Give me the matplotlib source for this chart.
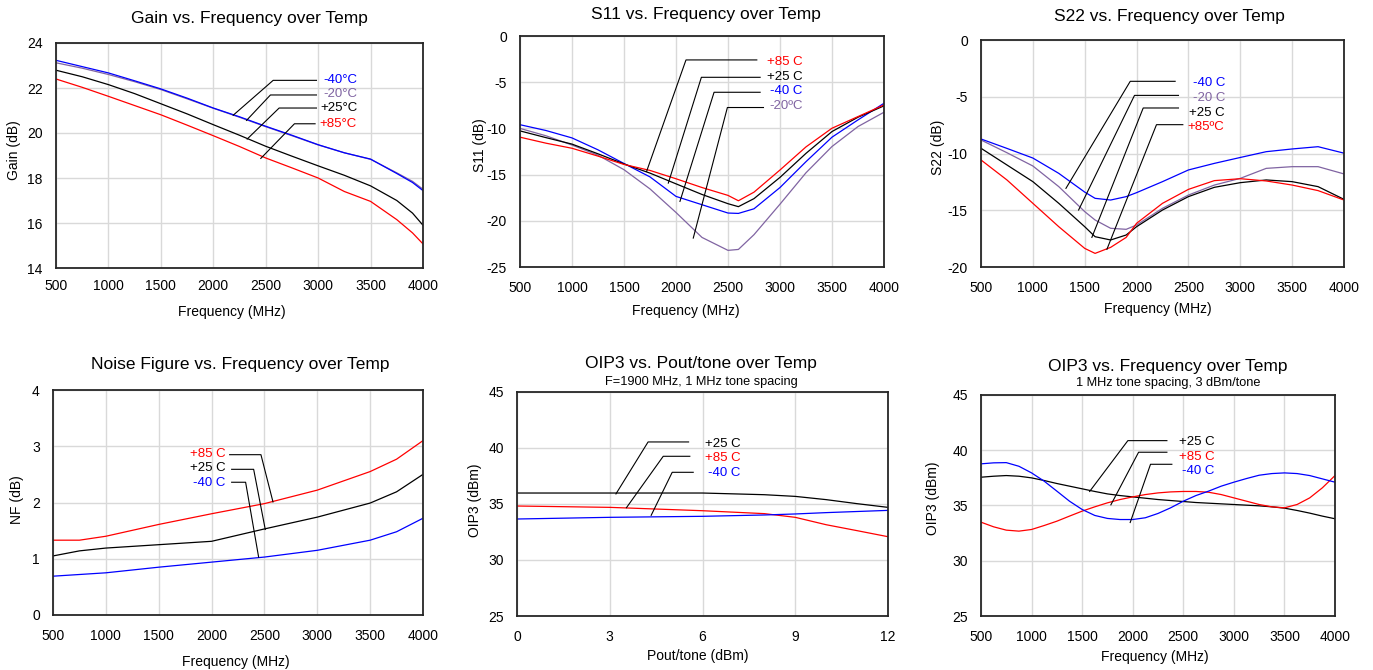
import matplotlib
matplotlib.use('Agg')
import matplotlib.pyplot as plt

plt.rcParams['font.family'] = ['Liberation Sans', 'DejaVu Sans']
plt.rcParams['axes.unicode_minus'] = False

# ---------------- data ----------------
GAIN_FREQ = [500, 750, 1000, 1250, 1500, 1750, 2000, 2250, 2500, 2750, 3000, 3250, 3500, 3750, 3900, 4000]
GAIN_M40 = [23.23, 22.95, 22.67, 22.32, 21.96, 21.55, 21.11, 20.72, 20.30, 19.90, 19.48, 19.12, 18.84, 18.20, 17.80, 17.44]
GAIN_M20 = [23.12, 22.88, 22.60, 22.28, 21.93, 21.52, 21.10, 20.70, 20.28, 19.88, 19.47, 19.12, 18.83, 18.23, 17.85, 17.50]
GAIN_P25 = [22.79, 22.50, 22.15, 21.75, 21.30, 20.85, 20.37, 19.90, 19.41, 18.97, 18.54, 18.12, 17.65, 17.00, 16.44, 15.90]
GAIN_P85 = [22.40, 22.03, 21.63, 21.22, 20.81, 20.35, 19.88, 19.40, 18.89, 18.45, 18.00, 17.40, 16.96, 16.15, 15.56, 15.07]

S11_FREQ = [500, 750, 1000, 1250, 1500, 1750, 2000, 2250, 2500, 2600, 2750, 3000, 3250, 3500, 3750, 4000]
S11_P85 = [-10.95, -11.6, -12.15, -13.0, -13.9, -14.55, -15.45, -16.4, -17.25, -17.83, -16.9, -14.5, -12.0, -9.98, -8.72, -7.46]
S11_P25 = [-10.27, -11.0, -11.7, -12.75, -13.85, -14.84, -16.0, -17.15, -18.15, -18.47, -17.6, -15.3, -12.7, -10.34, -8.79, -7.56]
S11_M40 = [-9.6, -10.23, -11.03, -12.32, -13.8, -15.25, -17.36, -18.26, -19.16, -19.2, -18.7, -16.4, -13.6, -10.95, -9.08, -7.28]
S11_M20 = [-10.0, -10.8, -11.8, -12.9, -14.47, -16.55, -19.1, -21.8, -23.2, -23.1, -21.5, -18.2, -14.8, -11.96, -9.8, -8.25]

S22_FREQ = [500, 750, 1000, 1250, 1500, 1600, 1750, 1900, 2000, 2250, 2500, 2750, 3000, 3250, 3500, 3750, 4000]
S22_M40 = [-8.72, -9.55, -10.4, -11.75, -13.4, -13.95, -14.1, -13.8, -13.45, -12.48, -11.45, -10.87, -10.35, -9.84, -9.6, -9.4, -9.97]
S22_M20 = [-8.81, -9.93, -11.1, -12.92, -15.12, -15.86, -16.59, -16.68, -16.3, -14.83, -13.66, -12.78, -12.19, -11.31, -11.16, -11.16, -11.8]
S22_P25 = [-9.54, -11.01, -12.48, -14.39, -16.45, -17.33, -17.62, -17.18, -16.45, -14.98, -13.8, -12.98, -12.57, -12.33, -12.48, -12.92, -14.04]
S22_P85 = [-10.57, -12.33, -14.39, -16.45, -18.36, -18.8, -18.27, -17.39, -16.15, -14.39, -13.16, -12.39, -12.22, -12.42, -12.78, -13.27, -14.1]

NF_FREQ = [500, 750, 1000, 1500, 2000, 2500, 3000, 3500, 3750, 4000]
NF_P85 = [1.33, 1.33, 1.40, 1.61, 1.80, 1.98, 2.22, 2.55, 2.77, 3.10]
NF_P25 = [1.05, 1.14, 1.19, 1.25, 1.31, 1.53, 1.74, 1.99, 2.19, 2.50]
NF_M40 = [0.69, 0.72, 0.75, 0.85, 0.94, 1.03, 1.15, 1.33, 1.48, 1.72]

POUT = [0, 3, 6, 8, 9, 10, 11, 12]
OIPP_P25 = [35.98, 35.98, 35.98, 35.83, 35.68, 35.39, 35.03, 34.70]
OIPP_P85 = [34.82, 34.70, 34.40, 34.14, 33.81, 33.15, 32.62, 32.08]
OIPP_M40 = [33.66, 33.81, 33.90, 34.02, 34.11, 34.23, 34.33, 34.43]

OIPF_FREQ = [500, 625, 750, 875, 1000, 1125, 1250, 1375, 1500, 1625, 1750, 1875, 2000, 2125, 2250,
             2375, 2500, 2625, 2750, 2875, 3000, 3125, 3250, 3375, 3500, 3625, 3750, 3875, 4000]
OIPF_M40 = [38.77, 38.86, 38.88, 38.55, 37.95, 37.20, 36.30, 35.39, 34.64, 34.10, 33.83, 33.73, 33.73, 33.89, 34.28,
            34.79, 35.39, 35.90, 36.30, 36.75, 37.11, 37.44, 37.74, 37.89, 37.95, 37.89, 37.71, 37.41, 37.11]
OIPF_P25 = [37.56, 37.65, 37.71, 37.65, 37.50, 37.26, 36.99, 36.75, 36.51, 36.27, 36.05, 35.90, 35.78, 35.66, 35.54,
            35.45, 35.36, 35.27, 35.21, 35.15, 35.09, 35.03, 34.97, 34.88, 34.76, 34.55, 34.31, 34.04, 33.80]
OIPF_P85 = [33.49, 33.07, 32.77, 32.68, 32.83, 33.19, 33.58, 34.04, 34.49, 34.88, 35.24, 35.54, 35.78, 35.99, 36.14,
            36.23, 36.27, 36.27, 36.20, 35.99, 35.69, 35.39, 35.09, 34.88, 34.79, 35.09, 35.69, 36.60, 37.71]

FREQ_TICKS = [500, 1000, 1500, 2000, 2500, 3000, 3500, 4000]

# ---------------- style ----------------
RED = '#ff0000'
BLUE = '#0000ff'
PURPLE = '#8064a2'
BLACK = '#000000'
LW = 0.9

W, H = 1373, 670
fig = plt.figure(figsize=(W / 100, H / 100), dpi=100)


def add_ax(l, t, r, b):
    return fig.add_axes([l / W, 1 - b / H, (r - l) / W, (b - t) / H])


def style(ax, rect, xlim, xticks, ylim, yticks, xlabel, ylabel, xl_px, yl_px, xpad=10):
    l, t, r, b = rect
    ax.set_xlim(*xlim)
    ax.set_ylim(*ylim)
    ax.set_xticks(xticks)
    ax.set_yticks(yticks)
    ax.grid(True, color='#d9d9d9', lw=1.0)
    ax.set_axisbelow(True)
    for s in ax.spines.values():
        s.set_color('#262626')
        s.set_linewidth(1.3)
    ax.tick_params(axis='both', length=0, labelsize=10, colors='#000000')
    ax.tick_params(axis='x', pad=xpad)
    ax.tick_params(axis='y', pad=9.5)
    ax.set_xlabel(xlabel, fontsize=10)
    ax.set_ylabel(ylabel, fontsize=10)
    xx = (xl_px[0] - l) / (r - l)
    xy = (b - xl_px[1]) / (b - t)
    ax.xaxis.set_label_coords(xx, xy)
    ax.xaxis.label.set_va('center')
    yx = (yl_px[0] - l) / (r - l)
    yy = (b - yl_px[1]) / (b - t)
    ax.yaxis.set_label_coords(yx, yy)
    ax.yaxis.label.set_va('center')


def title(x, y, s, size=12.5):
    fig.text(x / W, 1 - y / H, s, ha='center', va='center', fontsize=size)


def leader(ax, label, color, tx, ty, end_x, corner_x, ly, px, py, ha='left'):
    ax.plot([end_x, corner_x, px], [ly, ly, py], color='black', lw=0.8, clip_on=False, zorder=5)
    ax.text(tx, ty, label, color=color, ha=ha, va='center', fontsize=9.5, zorder=6)


# ---------------- Panel 1: Gain ----------------
r1 = (56, 43, 423, 268)
ax1 = add_ax(*r1)
ax1.plot(GAIN_FREQ, GAIN_M20, color=PURPLE, lw=LW)
ax1.plot(GAIN_FREQ, GAIN_M40, color=BLUE, lw=LW)
ax1.plot(GAIN_FREQ, GAIN_P25, color=BLACK, lw=LW)
ax1.plot(GAIN_FREQ, GAIN_P85, color=RED, lw=LW)
style(ax1, r1, (500, 4000), FREQ_TICKS, (14, 24), [14, 16, 18, 20, 22, 24],
      'Frequency (MHz)', 'Gain (dB)', (232, 312), (14, 150), xpad=8)
leader(ax1, '-40°C', BLUE, 3054, 22.37, 2984, 2571, 22.34, 2190, 20.79)
leader(ax1, '-20°C', PURPLE, 3054, 21.72, 2984, 2545, 21.69, 2317, 20.56)
leader(ax1, '+25°C', BLACK, 3022, 21.10, 2984, 2628, 21.11, 2323, 19.73)
leader(ax1, '+85°C', RED, 3009, 20.41, 2971, 2774, 20.41, 2453, 18.87)
title(249, 19, 'Gain vs. Frequency over Temp')

# ---------------- Panel 2: S11 ----------------
r2 = (520, 36, 884, 267)
ax2 = add_ax(*r2)
ax2.plot(S11_FREQ, S11_M20, color=PURPLE, lw=LW)
ax2.plot(S11_FREQ, S11_M40, color=BLUE, lw=LW)
ax2.plot(S11_FREQ, S11_P25, color=BLACK, lw=LW)
ax2.plot(S11_FREQ, S11_P85, color=RED, lw=LW)
style(ax2, r2, (500, 4000), FREQ_TICKS, (-25, 0), [-25, -20, -15, -10, -5, 0],
      'Frequency (MHz)', 'S11 (dB)', (686, 311), (480, 145))
leader(ax2, '+85 C', RED, 2873, -2.77, 2777, 2096, -2.59, 1717, -14.66)
leader(ax2, '+25 C', BLACK, 2873, -4.39, 2809, 2244, -4.47, 1926, -15.92)
leader(ax2, '-40 C', BLUE, 2905, -5.90, 2809, 2366, -6.09, 2038, -17.9)
leader(ax2, '-20ºC', PURPLE, 2899, -7.56, 2841, 2494, -7.74, 2166, -21.87)
title(706, 15, 'S11 vs. Frequency over Temp')

# ---------------- Panel 3: S22 ----------------
r3 = (981, 40, 1344, 267)
ax3 = add_ax(*r3)
ax3.plot(S22_FREQ, S22_M20, color=PURPLE, lw=LW)
ax3.plot(S22_FREQ, S22_M40, color=BLUE, lw=LW)
ax3.plot(S22_FREQ, S22_P25, color=BLACK, lw=LW)
ax3.plot(S22_FREQ, S22_P85, color=RED, lw=LW)
style(ax3, r3, (500, 4000), FREQ_TICKS, (-20, 0), [-20, -15, -10, -5, 0],
      'Frequency (MHz)', 'S22 (dB)', (1158, 309), (938, 147))
leader(ax3, '-40 C', BLUE, 2542, -3.82, 2372, 1939, -3.64, 1319, -13.07)
leader(ax3, '-20 C', PURPLE, 2542, -5.08, 2404, 1980, -4.88, 1441, -14.98)
leader(ax3, '+25 C', BLACK, 2507, -6.40, 2404, 2064, -5.99, 1569, -17.39)
leader(ax3, '+85ºC', RED, 2494, -7.69, 2446, 2192, -7.46, 1714, -18.44)
title(1169, 16, 'S22 vs. Frequency over Temp')

# ---------------- Panel 4: NF ----------------
r4 = (53, 390, 423, 615)
ax4 = add_ax(*r4)
ax4.plot(NF_FREQ, NF_P85, color=RED, lw=LW)
ax4.plot(NF_FREQ, NF_P25, color=BLACK, lw=LW)
ax4.plot(NF_FREQ, NF_M40, color=BLUE, lw=LW)
style(ax4, r4, (500, 4000), FREQ_TICKS, (0, 4), [0, 1, 2, 3, 4],
      'Frequency (MHz)', 'NF (dB)', (236, 662), (17, 500))
leader(ax4, '+85 C', RED, 2133, 2.87, 2171, 2467, 2.85, 2581, 2.01, ha='right')
leader(ax4, '+25 C', BLACK, 2133, 2.62, 2190, 2398, 2.59, 2508, 1.52, ha='right')
leader(ax4, '-40 C', BLUE, 2133, 2.35, 2190, 2322, 2.36, 2445, 1.03, ha='right')
title(240, 365, 'Noise Figure vs. Frequency over Temp')

# ---------------- Panel 5: OIP3 vs Pout ----------------
r5 = (517, 392, 888, 616)
ax5 = add_ax(*r5)
ax5.plot(POUT, OIPP_P25, color=BLACK, lw=LW)
ax5.plot(POUT, OIPP_P85, color=RED, lw=LW)
ax5.plot(POUT, OIPP_M40, color=BLUE, lw=LW)
style(ax5, r5, (0, 12), [0, 3, 6, 9, 12], (25, 45), [25, 30, 35, 40, 45],
      'Pout/tone (dBm)', 'OIP3 (dBm)', (698, 656), (475, 500))
leader(ax5, '+25 C', BLACK, 6.08, 40.39, 5.55, 4.24, 40.54, 3.20, 35.90)
leader(ax5, '+85 C', RED, 6.08, 39.08, 5.59, 4.73, 39.26, 3.54, 34.67)
leader(ax5, '-40 C', BLUE, 6.19, 37.77, 5.70, 5.02, 37.83, 4.34, 33.99)
title(701, 364, 'OIP3 vs. Pout/tone over Temp')
title(701, 382, 'F=1900 MHz, 1 MHz tone spacing', size=9.2)

# ---------------- Panel 6: OIP3 vs Frequency ----------------
r6 = (981, 395, 1335, 616)
ax6 = add_ax(*r6)
ax6.plot(OIPF_FREQ, OIPF_P25, color=BLACK, lw=LW)
ax6.plot(OIPF_FREQ, OIPF_P85, color=RED, lw=LW)
ax6.plot(OIPF_FREQ, OIPF_M40, color=BLUE, lw=LW)
style(ax6, r6, (500, 4000), FREQ_TICKS, (25, 45), [25, 30, 35, 40, 45],
      'Frequency (MHz)', 'OIP3 (dBm)', (1155, 657), (933, 498))
leader(ax6, '+25 C', BLACK, 2453, 40.78, 2338, 1952, 40.87, 1574, 36.27)
leader(ax6, '+85 C', RED, 2453, 39.43, 2338, 2058, 39.82, 1784, 35.06)
leader(ax6, '-40 C', BLUE, 2486, 38.16, 2387, 2176, 38.73, 1975, 33.46)
title(1168, 366, 'OIP3 vs. Frequency over Temp')
title(1168, 383, '1 MHz tone spacing, 3 dBm/tone', size=9.2)

fig.savefig('out.png', dpi=100, facecolor='white')
